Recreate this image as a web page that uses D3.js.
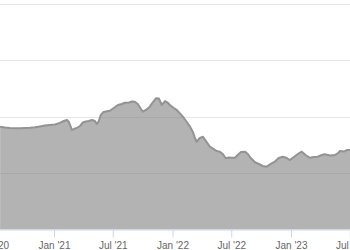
<!DOCTYPE html>
<html>
<head>
<meta charset="utf-8">
<script src="https://cdn.jsdelivr.net/npm/d3@7"></script>
<style>
  body { margin: 0; background: #fff; }
  svg { display: block; }
</style>
</head>
<body>
<svg id="chart" width="350" height="250"></svg>
<script>
// dates / values
const dates = [
  "2020-07-19", "2020-08-03", "2020-08-18", "2020-09-03", "2020-09-18", "2020-10-04",
  "2020-10-19", "2020-11-04", "2020-11-19", "2020-12-04", "2020-12-19", "2021-01-04",
  "2021-01-19", "2021-01-31", "2021-02-10", "2021-02-16", "2021-02-22", "2021-02-25",
  "2021-03-03", "2021-03-12", "2021-03-22", "2021-03-31", "2021-04-09", "2021-04-18",
  "2021-04-28", "2021-05-07", "2021-05-13", "2021-05-19", "2021-05-25", "2021-06-01",
  "2021-06-10", "2021-06-22", "2021-07-04", "2021-07-17", "2021-07-29", "2021-08-07",
  "2021-08-20", "2021-08-29", "2021-09-07", "2021-09-16", "2021-09-26", "2021-10-02",
  "2021-10-11", "2021-10-23", "2021-11-02", "2021-11-11", "2021-11-20", "2021-11-29",
  "2021-12-09", "2021-12-18", "2021-12-24", "2022-01-05", "2022-01-14", "2022-01-24",
  "2022-02-05", "2022-02-14", "2022-02-24", "2022-03-05", "2022-03-11", "2022-03-17",
  "2022-03-26", "2022-04-05", "2022-04-14", "2022-04-26", "2022-05-08", "2022-05-17",
  "2022-05-26", "2022-06-05", "2022-06-14", "2022-06-23", "2022-07-03", "2022-07-12",
  "2022-07-21", "2022-07-31", "2022-08-12", "2022-08-21", "2022-08-30", "2022-09-12",
  "2022-09-24", "2022-10-06", "2022-10-18", "2022-10-31", "2022-11-12", "2022-11-24",
  "2022-12-07", "2022-12-19", "2022-12-28", "2023-01-10", "2023-01-22", "2023-02-03",
  "2023-02-15", "2023-02-28", "2023-03-12", "2023-03-24", "2023-04-06", "2023-04-15",
  "2023-05-01", "2023-05-16", "2023-05-26", "2023-06-01", "2023-06-13", "2023-06-23",
  "2023-07-02", "2023-07-11"
];
const values = [
  91.0, 90.3, 89.8, 89.6, 89.6, 89.8,
  90.0, 90.4, 91.2, 92.0, 92.5, 92.9,
  94.3, 96.0, 96.9, 95.1, 90.7, 88.1,
  88.9, 89.8, 91.6, 94.7, 95.6, 96.0,
  96.9, 96.0, 93.4, 96.0, 101.3, 103.7,
  104.4, 105.1, 107.5, 110.2, 111.1, 112.2,
  112.4, 113.3, 113.1, 111.1, 106.6, 104.3,
  105.8, 108.7, 112.8, 116.1, 115.9, 110.2,
  113.7, 112.0, 110.2, 107.5, 105.8, 102.8,
  98.7, 95.1, 91.0, 86.3, 81.0, 77.7,
  81.0, 82.1, 78.3, 73.3, 71.2, 69.5,
  68.9, 66.8, 63.0, 63.7, 63.5, 63.5,
  65.9, 68.6, 68.9, 66.8, 63.3, 59.5,
  58.0, 56.2, 55.6, 58.0, 60.0, 63.3,
  64.4, 63.3, 61.5, 64.2, 66.8, 68.9,
  65.9, 63.5, 64.2, 64.4, 65.9, 66.6,
  65.5, 65.9, 67.7, 69.5, 69.0, 70.4,
  70.4, 70.8
];
const yTicks = [0, 50, 100, 150, 200];

const data = dates.map((d, i) => ({ date: new Date(d + "T00:00:00Z"), value: values[i] }));

const svg = d3.select("#chart");

// l'échelle est calée sur les repères Jan '21 / Jan '23 de l'image
const x = d3.scaleUtc()
  .domain([new Date(Date.UTC(2021, 0, 1)), new Date(Date.UTC(2023, 0, 1))])
  .range([54, 291]);

const y = d3.scaleLinear()
  .domain([0, 200])
  .range([229.5, 3.5]);

// grille horizontale
svg.append("g")
  .selectAll("line")
  .data(yTicks.slice(1))
  .enter()
  .append("line")
  .attr("x1", 0)
  .attr("x2", 350)
  .attr("y1", (d) => Math.round(y(d)) + 0.5)
  .attr("y2", (d) => Math.round(y(d)) + 0.5)
  .attr("stroke", "#e6e6e6");

const area = d3.area()
  .x((d) => x(d.date))
  .y0(y(0))
  .y1((d) => y(d.value));

const line = d3.line()
  .x((d) => x(d.date))
  .y((d) => y(d.value));

svg.append("path")
  .datum(data)
  .attr("d", area)
  .attr("fill", "rgb(128,128,128)")
  .attr("fill-opacity", 0.6);

svg.append("path")
  .datum(data)
  .attr("d", line)
  .attr("fill", "none")
  .attr("stroke", "#939393")
  .attr("stroke-width", 2)
  .attr("stroke-linejoin", "round");

// axe des x
const xTicks = d3.utcMonth.every(6).range(new Date(Date.UTC(2020, 6, 1)), new Date(Date.UTC(2023, 7, 1)));

const xAxis = svg.append("g")
  .attr("transform", `translate(0,${y(0)})`)
  .call(
    d3.axisBottom(x)
      .tickValues(xTicks)
      .tickSize(8)
      .tickPadding(4)
      .tickFormat(d3.utcFormat("%b '%y"))
  );

xAxis.select(".domain").attr("stroke", "#ccd6eb").attr("d", "M0,0.5H350");
xAxis.selectAll(".tick line").attr("stroke", "#ccd6eb");
xAxis.selectAll(".tick text")
  .attr("fill", "#666")
  .style("font-family", "'Liberation Sans', Arial, sans-serif")
  .style("font-size", "10px");
</script>
</body>
</html>
